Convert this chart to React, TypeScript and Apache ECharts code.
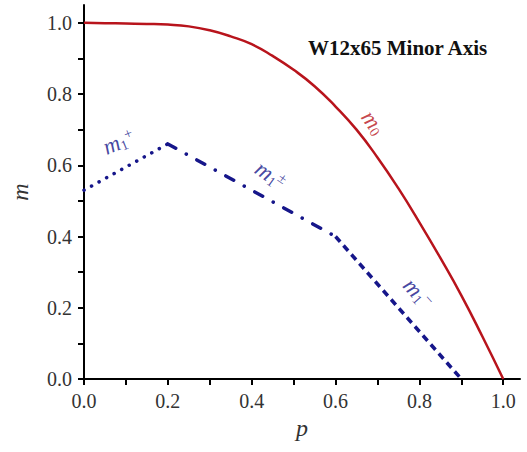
import React, { useEffect, useRef } from "react";
import * as echarts from "echarts";

const m0P = [0, 0.05, 0.1, 0.15, 0.2, 0.25, 0.3, 0.35, 0.4, 0.45, 0.5, 0.55, 0.6, 0.65, 0.7, 0.75, 0.8, 0.85, 0.9, 0.95, 1.0];
const m0M = [1.0, 0.999, 0.998, 0.997, 0.995, 0.99, 0.979, 0.962, 0.94, 0.907, 0.868, 0.822, 0.765, 0.7, 0.622, 0.535, 0.44, 0.34, 0.235, 0.12, 0.0];
const m1PlusP = [0, 0.2];
const m1PlusM = [0.53, 0.66];
const m1PmP = [0.2, 0.6];
const m1PmM = [0.66, 0.4];
const m1MinusP = [0.6, 0.9];
const m1MinusM = [0.4, 0.0];
const xTickValues = [0, 0.1, 0.2, 0.3, 0.4, 0.5, 0.6, 0.7, 0.8, 0.9, 1.0];
const xLabelValues = [0, 0.2, 0.4, 0.6, 0.8, 1.0];
const yTickValues = [0, 0.1, 0.2, 0.3, 0.4, 0.5, 0.6, 0.7, 0.8, 0.9, 1.0];
const yLabelValues = [0, 0.2, 0.4, 0.6, 0.8, 1.0];
const labelNames = ["m0", "m1+", "m1±", "m1-"];
const labelAt = [
  [0.69, 0.72],
  [0.083, 0.665],
  [0.445, 0.572],
  [0.797, 0.24],
];
const labelRotate = [-55, 22, -35, -48];

const RED = "#b8141c";
const BLUE = "#16168a";
const SERIF = "'Liberation Serif', 'Times New Roman', serif";

const zip = (a: number[], b: number[]) => a.map((v, i) => [v, b[i]]);

export default function App() {
  const ref = useRef<HTMLDivElement>(null);
  useEffect(() => {
    if (!ref.current) return;
    const chart = echarts.init(ref.current, undefined, { renderer: "svg" });
    const rich = (color: string) => ({
      m: { fontFamily: SERIF, fontStyle: "italic", fontSize: 23, color },
      sub: { fontFamily: SERIF, fontSize: 14, color, verticalAlign: "bottom", padding: [9, 0, 0, 0] },
      sup: { fontFamily: SERIF, fontSize: 15, color, verticalAlign: "top", padding: [0, 0, 9, 0] },
    });
    const fmts: Record<string, string> = {
      m0: "{m|m}{sub|0}",
      "m1+": "{m|m}{sub|1}{sup|+}",
      "m1±": "{m|m}{sub|1}{sup|±}",
      "m1-": "{m|m}{sub|1}{sup|−}",
    };
    const axisCommon = {
      type: "value" as const,
      min: 0,
      axisLine: { show: true, lineStyle: { color: "#000", width: 2 } },
      axisTick: { show: true, inside: false, length: 6, lineStyle: { color: "#000", width: 2 } },
      splitLine: { show: false },
      axisLabel: {
        fontFamily: SERIF,
        fontSize: 20,
        color: "#333",
        formatter: (v: number) => v.toFixed(1),
      },
      nameTextStyle: { fontFamily: SERIF, fontStyle: "italic", fontSize: 24, color: "#333" },
      nameLocation: "middle" as const,
    };
    chart.setOption({
      animation: false,
      backgroundColor: "#fff",
      title: {
        text: "W12x65 Minor Axis",
        left: 303,
        top: 32,
        textStyle: { fontFamily: SERIF, fontWeight: "bold", fontSize: 21, color: "#111" },
      },
      grid: { left: 78, top: 5, width: 442, height: 374, containLabel: false },
      xAxis: {
        ...axisCommon,
        max: 1.04,
        name: "p",
        nameGap: 36,
        axisTick: { ...axisCommon.axisTick, customValues: xTickValues },
        axisLabel: { ...axisCommon.axisLabel, customValues: xLabelValues, margin: 12 },
      },
      yAxis: {
        ...axisCommon,
        max: 1.05,
        name: "m",
        nameGap: 52,
        axisTick: { ...axisCommon.axisTick, customValues: yTickValues },
        axisLabel: { ...axisCommon.axisLabel, customValues: yLabelValues, margin: 12 },
      },
      series: [
        {
          type: "line",
          data: zip(m0P, m0M),
          smooth: 0.5,
          symbol: "none",
          lineStyle: { color: RED, width: 2.5 },
        },
        {
          type: "line",
          data: zip(m1PlusP, m1PlusM),
          symbol: "none",
          lineStyle: { color: BLUE, width: 3.5, type: [0.1, 8.5], cap: "round" },
        },
        {
          type: "line",
          data: zip(m1PmP, m1PmM),
          symbol: "none",
          lineStyle: { color: BLUE, width: 3.5, type: [9, 12, 0.1, 12], cap: "round" },
        },
        {
          type: "line",
          data: zip(m1MinusP, m1MinusM),
          symbol: "none",
          lineStyle: { color: BLUE, width: 3.5, type: [7, 5] },
        },
        {
          type: "scatter",
          symbolSize: 0,
          silent: true,
          data: labelNames.map((n, i) => {
            const color = n === "m0" ? RED : BLUE;
            return {
              value: labelAt[i],
              label: {
                show: true,
                position: "inside",
                rotate: labelRotate[i],
                formatter: fmts[n],
                rich: rich(color),
              },
            };
          }),
        },
      ],
    });
    return () => chart.dispose();
  }, []);
  return (
    <div
      ref={ref}
      style={{ position: "fixed", left: 0, top: 0, width: 527, height: 452, background: "#fff" }}
    />
  );
}
